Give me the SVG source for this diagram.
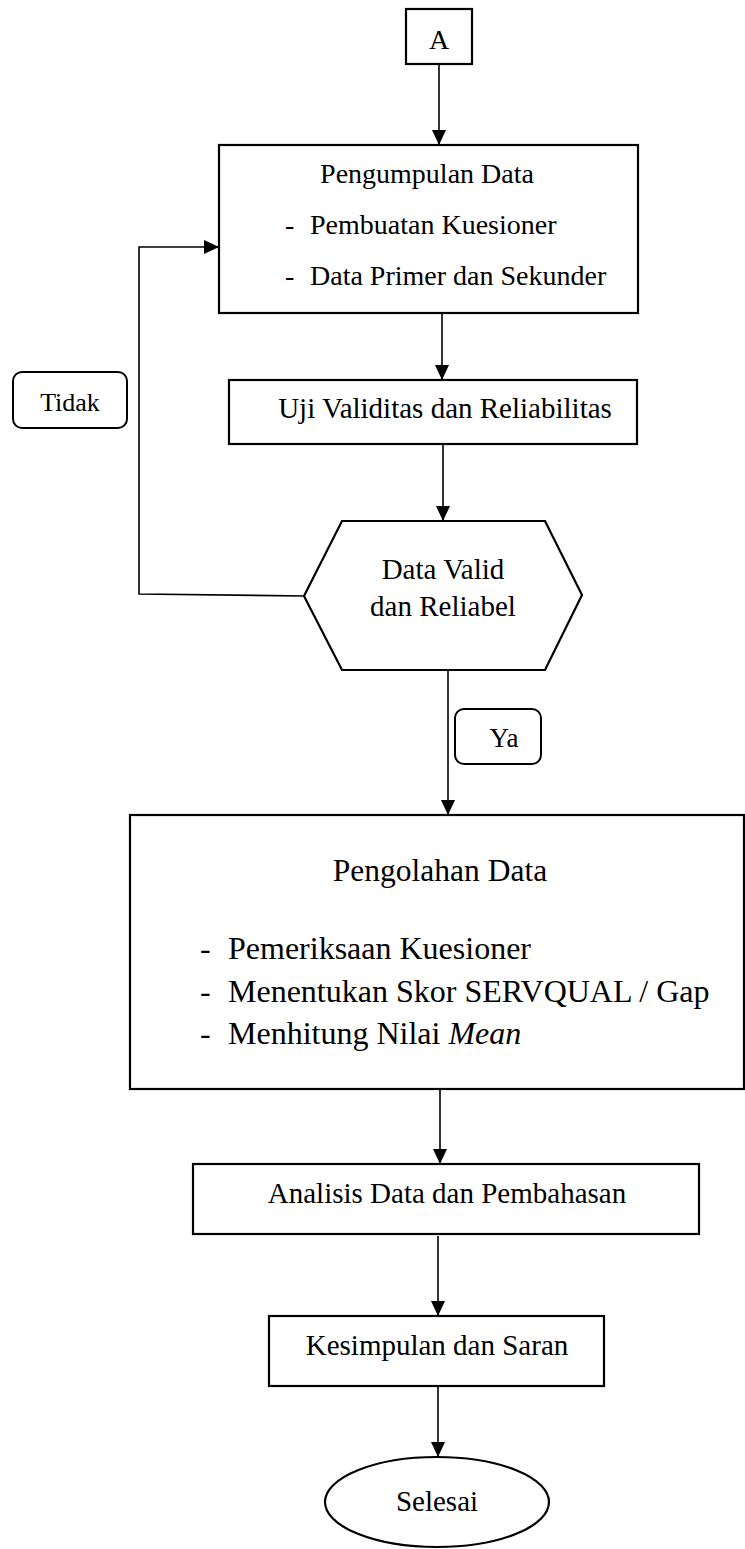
<svg xmlns="http://www.w3.org/2000/svg" width="745" height="1549" viewBox="0 0 745 1549">
<style>
.box{fill:#fff;stroke:#000;stroke-width:2.2}
.lbl{fill:#fff;stroke:#000;stroke-width:2}
.con{fill:none;stroke:#000;stroke-width:1.6}
text{font-family:"Liberation Serif","Times New Roman",serif;fill:#000}
.c{text-anchor:middle}
</style>
<defs>
<marker id="ah" markerUnits="userSpaceOnUse" markerWidth="14" markerHeight="15" refX="15" refY="7" orient="auto">
<path d="M0,0 L15,7 L0,14 z" fill="#000"/>
</marker>
</defs>
<rect width="745" height="1549" fill="#fff"/>
<g id="connectors">
<path class="con" d="M439,64 V145" marker-end="url(#ah)"/>
<path class="con" d="M442,313 V380" marker-end="url(#ah)"/>
<path class="con" d="M443,444 V521" marker-end="url(#ah)"/>
<path class="con" d="M304,596 L139,594 V247 H219" marker-end="url(#ah)"/>
<path class="con" d="M448,670 V815" marker-end="url(#ah)"/>
<path class="con" d="M440,1089 V1164" marker-end="url(#ah)"/>
<path class="con" d="M438,1236 V1316" marker-end="url(#ah)"/>
<path class="con" d="M438,1387 V1457" marker-end="url(#ah)"/>
</g>
<g id="nodeA">
<rect class="box" x="406" y="9" width="66" height="55"/>
<text class="c" x="439" y="49" font-size="28">A</text>
</g>
<g id="pengumpulan">
<rect class="box" x="219" y="145" width="419" height="168"/>
<text class="c" x="427" y="183" font-size="28">Pengumpulan Data</text>
<text x="285" y="234" font-size="28">-</text>
<text x="310" y="234" font-size="28">Pembuatan Kuesioner</text>
<text x="285" y="285" font-size="28">-</text>
<text x="310" y="285" font-size="28">Data Primer dan Sekunder</text>
</g>
<g id="tidak">
<rect class="lbl" x="13" y="372" width="114" height="56" rx="9"/>
<text class="c" x="70" y="411" font-size="26">Tidak</text>
</g>
<g id="uji">
<rect class="box" x="229" y="380" width="408" height="64"/>
<text class="c" x="445" y="418" font-size="29">Uji Validitas dan Reliabilitas</text>
</g>
<g id="decision">
<polygon class="box" points="342,521 545,521 582,595 545,670 342,670 304,596"/>
<text class="c" x="443" y="579" font-size="29">Data Valid</text>
<text class="c" x="443" y="616" font-size="29">dan Reliabel</text>
</g>
<g id="ya">
<rect class="lbl" x="455" y="709" width="86" height="55" rx="9"/>
<text class="c" x="504" y="747" font-size="27">Ya</text>
</g>
<g id="pengolahan">
<rect class="box" x="130" y="815" width="614" height="274"/>
<text class="c" x="440" y="881" font-size="31.5">Pengolahan Data</text>
<text x="200" y="959" font-size="32">-</text>
<text x="228" y="959" font-size="32">Pemeriksaan Kuesioner</text>
<text x="200" y="1002" font-size="32">-</text>
<text x="228" y="1002" font-size="32">Menentukan Skor SERVQUAL / Gap</text>
<text x="200" y="1044" font-size="32">-</text>
<text x="228" y="1044" font-size="32">Menhitung Nilai <tspan font-style="italic">Mean</tspan></text>
</g>
<g id="analisis">
<rect class="box" x="193" y="1164" width="506" height="70"/>
<text class="c" x="447" y="1203" font-size="29">Analisis Data dan Pembahasan</text>
</g>
<g id="kesimpulan">
<rect class="box" x="269" y="1316" width="335" height="70"/>
<text class="c" x="437" y="1355" font-size="29">Kesimpulan dan Saran</text>
</g>
<g id="selesai">
<ellipse class="box" cx="437" cy="1502" rx="112" ry="45"/>
<text class="c" x="437" y="1511" font-size="29">Selesai</text>
</g>
</svg>
